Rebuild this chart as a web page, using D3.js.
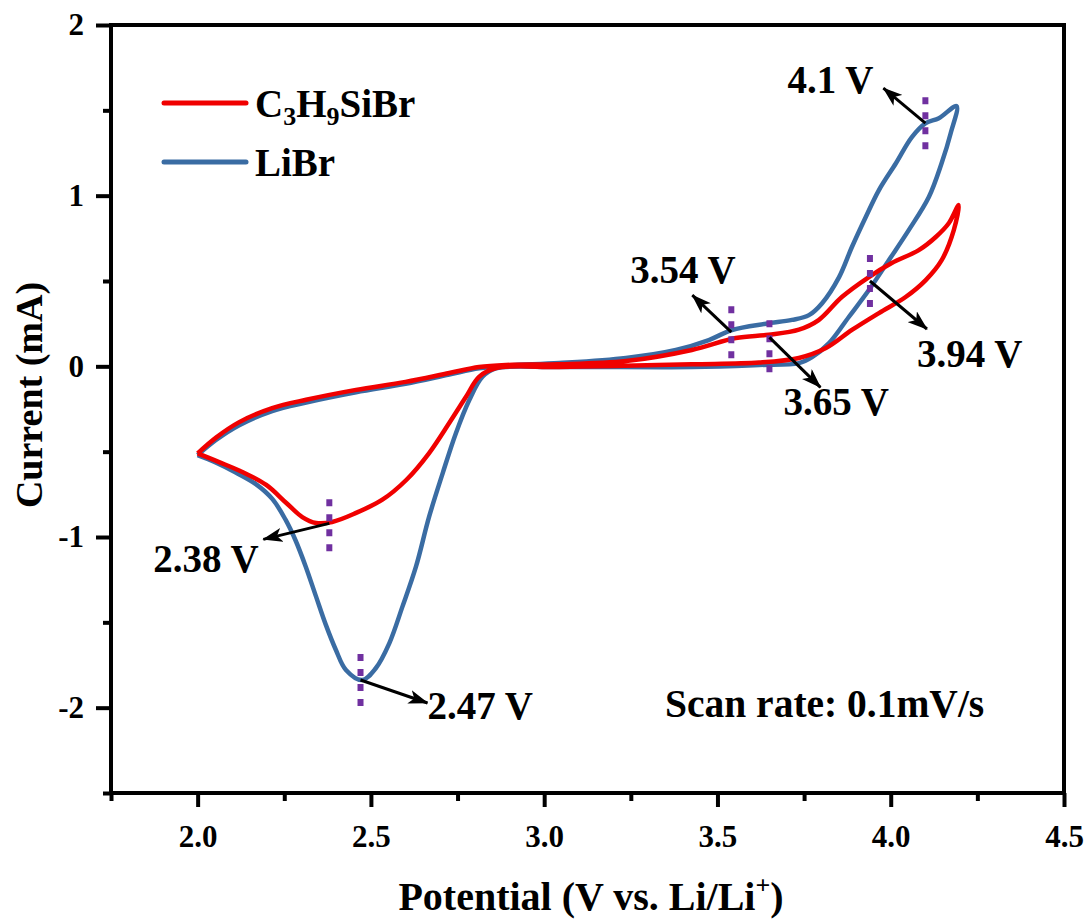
<!DOCTYPE html>
<html>
<head>
<meta charset="utf-8">
<script src="https://cdn.jsdelivr.net/npm/d3@7"></script>
<style>
  html, body { margin: 0; padding: 0; background: #fff; }
  svg { display: block; }
  text { font-family: "Liberation Serif", "Times New Roman", serif; font-weight: bold; fill: #000; }
</style>
</head>
<body>
<svg id="chart" width="1090" height="922"></svg>
<script>
// Cyclic voltammograms, scan 2.0 V -> 4.2 V -> 2.0 V, [potential (V), current (mA)]
const seriesNames = ["C\u2083H\u2089SiBr", "LiBr"];

const c3h9sibrAnodic = [
  [2.0,-0.51],[2.054,-0.416],[2.12,-0.327],[2.215,-0.245],[2.313,-0.196],[2.457,-0.138],
  [2.6,-0.091],[2.726,-0.039],[2.812,-0.004],[2.89,0.008],[3.043,0.012],[3.236,0.031],
  [3.426,0.096],[3.553,0.166],[3.648,0.185],[3.735,0.215],[3.792,0.271],[3.859,0.406],
  [3.937,0.523],[4.003,0.605],[4.081,0.681],[4.13,0.758],[4.168,0.84],[4.196,0.945]
];
const c3h9sibrCathodic = [
  [4.182,0.798],[4.147,0.622],[4.101,0.505],[4.043,0.406],[3.966,0.312],[3.888,0.213],
  [3.813,0.107],[3.735,0.049],[3.62,0.022],[3.427,0.012],[3.2,0.002],[3.043,-0.004],
  [2.861,-0.01],[2.812,-0.062],[2.774,-0.18],[2.726,-0.332],[2.668,-0.508],[2.602,-0.666],
  [2.532,-0.783],[2.457,-0.859],[2.388,-0.912],[2.342,-0.918],[2.302,-0.883],[2.256,-0.801],
  [2.198,-0.695],[2.129,-0.619],[2.062,-0.561],[2.0,-0.51]
];
const libreAnodic = [
  [2.0,-0.52],[2.054,-0.43],[2.12,-0.345],[2.215,-0.262],[2.313,-0.212],[2.457,-0.152],
  [2.6,-0.102],[2.726,-0.048],[2.812,-0.012],[2.89,0.004],[3.043,0.019],[3.236,0.049],
  [3.38,0.096],[3.475,0.154],[3.542,0.213],[3.64,0.25],[3.715,0.272],[3.764,0.3],
  [3.802,0.37],[3.851,0.523],[3.888,0.699],[3.928,0.875],[3.966,1.033],[4.015,1.19],
  [4.061,1.343],[4.101,1.425],[4.139,1.454],[4.19,1.525]
];
const libreCathodic = [
  [4.173,1.366],[4.147,1.191],[4.11,0.992],[4.052,0.798],[3.995,0.623],[3.937,0.447],
  [3.879,0.289],[3.822,0.136],[3.773,0.054],[3.735,0.019],[3.62,0.008],[3.427,-0.004],
  [3.043,-0.004],[2.861,-0.012],[2.822,-0.061],[2.784,-0.197],[2.745,-0.393],[2.707,-0.627],
  [2.668,-0.881],[2.63,-1.174],[2.591,-1.408],[2.553,-1.623],[2.514,-1.769],[2.475,-1.838],
  [2.428,-1.779],[2.399,-1.662],[2.37,-1.515],[2.341,-1.345],[2.312,-1.174],[2.283,-1.022],
  [2.254,-0.9],[2.216,-0.778],[2.168,-0.69],[2.11,-0.622],[2.052,-0.563],[2.0,-0.52]
];

// Peak potentials marked on the curves: [potential (V), current (mA)]
const peakVoltages = [4.1, 3.54, 3.65, 3.94, 2.38, 2.47];
const peakCurrents = [1.425, 0.2, 0.17, 0.5, -0.92, -1.838];
const peakLabels = ["4.1 V", "3.54 V", "3.65 V", "3.94 V", "2.38 V", "2.47 V"];

// Axis ticks
const xMajorTicks = [2.0, 2.5, 3.0, 3.5, 4.0, 4.5];
const xMinorTicks = [1.75, 2.25, 2.75, 3.25, 3.75, 4.25];
const yMajorTicks = [-2, -1, 0, 1, 2];
const yMinorTicks = [-2.5, -1.5, -0.5, 0.5, 1.5];

const xDomain = [1.75, 4.5];
const yDomain = [-2.5, 2];

// ---- layout ----
const margin = { left: 111, right: 1064, top: 25, bottom: 793 };
const colors = { red: "#f00000", blue: "#3a6ca3", purple: "#7030a0" };
// label / arrow offsets (px) from each peak point
const peakLayout = [
  { adx: -42, ady: -35, tdx: -138, tdy: -30, dash: 0 },
  { adx: -39, ady: -37, tdx: -101, tdy: -49, dash: 0 },
  { adx: 51,  ady: 50,  tdx: 14,   tdy: 78,  dash: 9 },
  { adx: 57,  ady: 48,  tdx: 47,   tdy: 86,  dash: 0 },
  { adx: -66, ady: 16,  tdx: -176, tdy: 49,  dash: 2 },
  { adx: 67,  ady: 23,  tdx: 67,   tdy: 39,  dash: 0 }
];

const svg = d3.select("#chart");
svg.append("rect").attr("width", 1090).attr("height", 922).attr("fill", "#fff");

const x = d3.scaleLinear().domain(xDomain).range([margin.left, margin.right]);
const y = d3.scaleLinear().domain(yDomain).range([margin.bottom, margin.top]);

// arrowhead
svg.append("defs").append("marker")
  .attr("id", "head").attr("viewBox", "0 0 20 14")
  .attr("refX", 19).attr("refY", 7)
  .attr("markerWidth", 20).attr("markerHeight", 14)
  .attr("markerUnits", "userSpaceOnUse").attr("orient", "auto")
  .append("path").attr("d", "M0,0 L20,7 L0,14 L5,7 Z").attr("fill", "#000");

// axes
const xAxisMinor = d3.axisBottom(x).tickValues(xMinorTicks).tickSize(8).tickFormat("");
const xAxis = d3.axisBottom(x).tickValues(xMajorTicks).tickSize(14).tickPadding(18)
  .tickFormat(d3.format(".1f"));
const yAxisMinor = d3.axisLeft(y).tickValues(yMinorTicks).tickSize(8).tickFormat("");
const yAxis = d3.axisLeft(y).tickValues(yMajorTicks).tickSize(15).tickPadding(12)
  .tickFormat(d => String(d));

function styleAxis(g) {
  g.select(".domain").remove();
  g.selectAll(".tick line").attr("stroke", "#000").attr("stroke-width", 4);
  g.selectAll(".tick text").attr("font-size", 31)
    .style("font-family", '"Liberation Serif", "Times New Roman", serif')
    .style("font-weight", "bold").attr("fill", "#000");
}
svg.append("g").attr("transform", `translate(0,${margin.bottom})`).call(xAxisMinor).call(styleAxis);
svg.append("g").attr("transform", `translate(0,${margin.bottom})`).call(xAxis).call(styleAxis);
svg.append("g").attr("transform", `translate(${margin.left},0)`).call(yAxisMinor).call(styleAxis);
svg.append("g").attr("transform", `translate(${margin.left},0)`).call(yAxis).call(styleAxis);

// frame
svg.append("rect")
  .attr("x", margin.left).attr("y", margin.top)
  .attr("width", margin.right - margin.left).attr("height", margin.bottom - margin.top)
  .attr("fill", "none").attr("stroke", "#000").attr("stroke-width", 4);

// curves
const line = d3.line().x(d => x(d[0])).y(d => y(d[1])).curve(d3.curveCatmullRom.alpha(0.5));
const loops = [
  { pts: libreAnodic.concat(libreCathodic), color: colors.blue },
  { pts: c3h9sibrAnodic.concat(c3h9sibrCathodic), color: colors.red }
];
svg.append("g").selectAll("path").data(loops).join("path")
  .attr("d", d => line(d.pts))
  .attr("fill", "none").attr("stroke", d => d.color)
  .attr("stroke-width", 4.5).attr("stroke-linejoin", "round");

// peak markers, arrows and labels
const peaks = peakVoltages.map((v, i) => ({ v, c: peakCurrents[i], label: peakLabels[i], lay: peakLayout[i] }));
const pg = svg.append("g");
pg.selectAll("line.dash").data(peaks).join("line").attr("class", "dash")
  .attr("x1", d => x(d.v)).attr("x2", d => x(d.v))
  .attr("y1", d => y(d.c) + d.lay.dash - 26).attr("y2", d => y(d.c) + d.lay.dash + 26)
  .attr("stroke", colors.purple).attr("stroke-width", 6).attr("stroke-dasharray", "7,8");
pg.selectAll("line.arrow").data(peaks).join("line").attr("class", "arrow")
  .attr("x1", d => x(d.v)).attr("y1", d => y(d.c))
  .attr("x2", d => x(d.v) + d.lay.adx).attr("y2", d => y(d.c) + d.lay.ady)
  .attr("stroke", "#000").attr("stroke-width", 3).attr("marker-end", "url(#head)");
pg.selectAll("text").data(peaks).join("text")
  .attr("x", d => x(d.v) + d.lay.tdx).attr("y", d => y(d.c) + d.lay.tdy)
  .attr("font-size", 39).text(d => d.label);

// legend
const legend = svg.append("g");
const legendRows = [
  { color: colors.red, y: 103 },
  { color: colors.blue, y: 162 }
];
legend.selectAll("line").data(legendRows).join("line")
  .attr("x1", 164).attr("x2", 246).attr("y1", d => d.y).attr("y2", d => d.y)
  .attr("stroke", d => d.color).attr("stroke-width", 5).attr("stroke-linecap", "round");
const t1 = legend.append("text").attr("x", 255).attr("y", 117).attr("font-size", 39);
t1.append("tspan").text("C");
t1.append("tspan").attr("font-size", 26).attr("dy", 8).text("3");
t1.append("tspan").attr("dy", -8).text("H");
t1.append("tspan").attr("font-size", 26).attr("dy", 8).text("9");
t1.append("tspan").attr("dy", -8).text("SiBr");
legend.append("text").attr("x", 255).attr("y", 176).attr("font-size", 39).text(seriesNames[1]);

// scan rate note
svg.append("text").attr("x", 665).attr("y", 717).attr("font-size", 39.5).text("Scan rate: 0.1mV/s");

// axis titles
const xt = svg.append("text").attr("x", 591).attr("y", 910).attr("text-anchor", "middle").attr("font-size", 40);
xt.append("tspan").text("Potential (V vs. Li/Li");
xt.append("tspan").attr("font-size", 26).attr("dy", -16).text("+");
xt.append("tspan").attr("dy", 16).text(")");
svg.append("text").attr("transform", "translate(42,395) rotate(-90)")
  .attr("text-anchor", "middle").attr("font-size", 38).text("Current (mA)");
</script>
</body>
</html>
